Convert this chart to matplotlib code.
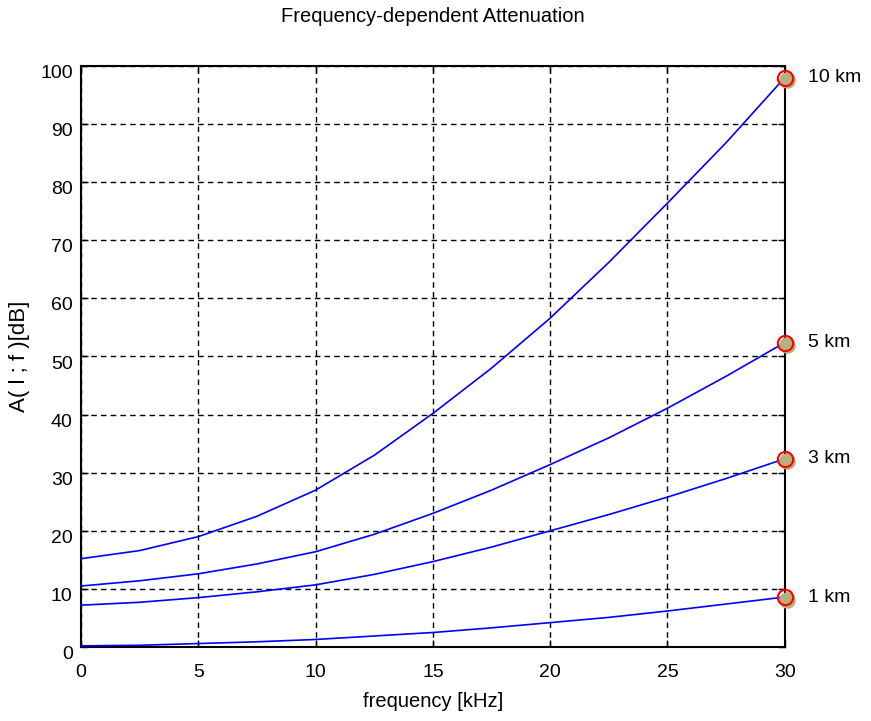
import matplotlib.pyplot as plt
from matplotlib.transforms import offset_copy, ScaledTranslation

plt.rcParams['font.family'] = ['Liberation Sans', 'DejaVu Sans']

# frequency grid (kHz) and attenuation curves (dB) per cable length
freq = [0, 2.5, 5, 7.5, 10, 12.5, 15, 17.5, 20, 22.5, 25, 27.5, 30]
att_1km = [0.2, 0.3, 0.6, 0.9, 1.3, 1.9, 2.5, 3.3, 4.2, 5.1, 6.2, 7.4, 8.6]
att_3km = [7.2, 7.7, 8.5, 9.5, 10.7, 12.5, 14.7, 17.2, 20.0, 22.8, 25.8, 29.0, 32.4]
att_5km = [10.5, 11.4, 12.6, 14.3, 16.4, 19.4, 23.0, 27.0, 31.4, 36.0, 41.1, 46.6, 52.4]
att_10km = [15.2, 16.6, 19.0, 22.5, 27.0, 33.0, 40.2, 48.0, 56.6, 66.2, 76.4, 86.8, 98.0]
curve_labels = ['1 km', '3 km', '5 km', '10 km']

xticks = [0, 5, 10, 15, 20, 25, 30]
yticks = [0, 10, 20, 30, 40, 50, 60, 70, 80, 90, 100]

fig = plt.figure(figsize=(8.71, 7.21), dpi=100)
ax = fig.add_axes([0.093, 0.1026, 0.808, 0.8059])

curves = [att_1km, att_3km, att_5km, att_10km]
for vals, lab in zip(curves, curve_labels):
    ax.plot(freq, vals, color='#0000ff', linewidth=1.2, zorder=3)
    # end marker: shaded disc with a red ring on top
    shadow = offset_copy(ax.transData, fig=fig, x=2.5, y=-2.5, units='dots')
    ax.plot(freq[-1], vals[-1], 'o', ms=12, color='#b5b07e', mec='none',
            transform=shadow, clip_on=False, zorder=4)
    ax.plot(freq[-1], vals[-1], 'o', ms=11, mfc='none', mec='#ff0000',
            mew=1.5, clip_on=False, zorder=5)
    ax.annotate(lab, (freq[-1], vals[-1]), xytext=(17, 0),
                textcoords='offset points', va='center', ha='left',
                fontsize=14, annotation_clip=False)

ax.set_xlim(0, 30)
ax.set_ylim(0, 100)
ax.set_xticks(xticks)
ax.set_yticks(yticks)
ax.tick_params(direction='in', top=True, right=True, labelsize=14,
               length=5, width=1)
ax.tick_params(axis='x', pad=12)
ax.tick_params(axis='y', pad=6)

# y tick labels sit a little below their grid lines
shift = ScaledTranslation(0, -4 / 72, fig.dpi_scale_trans)
for lbl in ax.get_yticklabels():
    lbl.set_transform(lbl.get_transform() + shift)

ax.grid(True, color='black', linestyle=(0, (4, 3)), linewidth=1)
for sp in ax.spines.values():
    sp.set_linewidth(1.5)

ax.set_title('Frequency-dependent Attenuation', fontsize=14.5, pad=32)
ax.set_xlabel('frequency [kHz]', fontsize=14.5, va='center')
ax.set_ylabel('A( l ; f )[dB]', fontsize=16, va='center')
ax.xaxis.set_label_coords(0.5, -0.093)
ax.yaxis.set_label_coords(-0.087, 0.5)

fig.savefig('out.png', dpi=100)
